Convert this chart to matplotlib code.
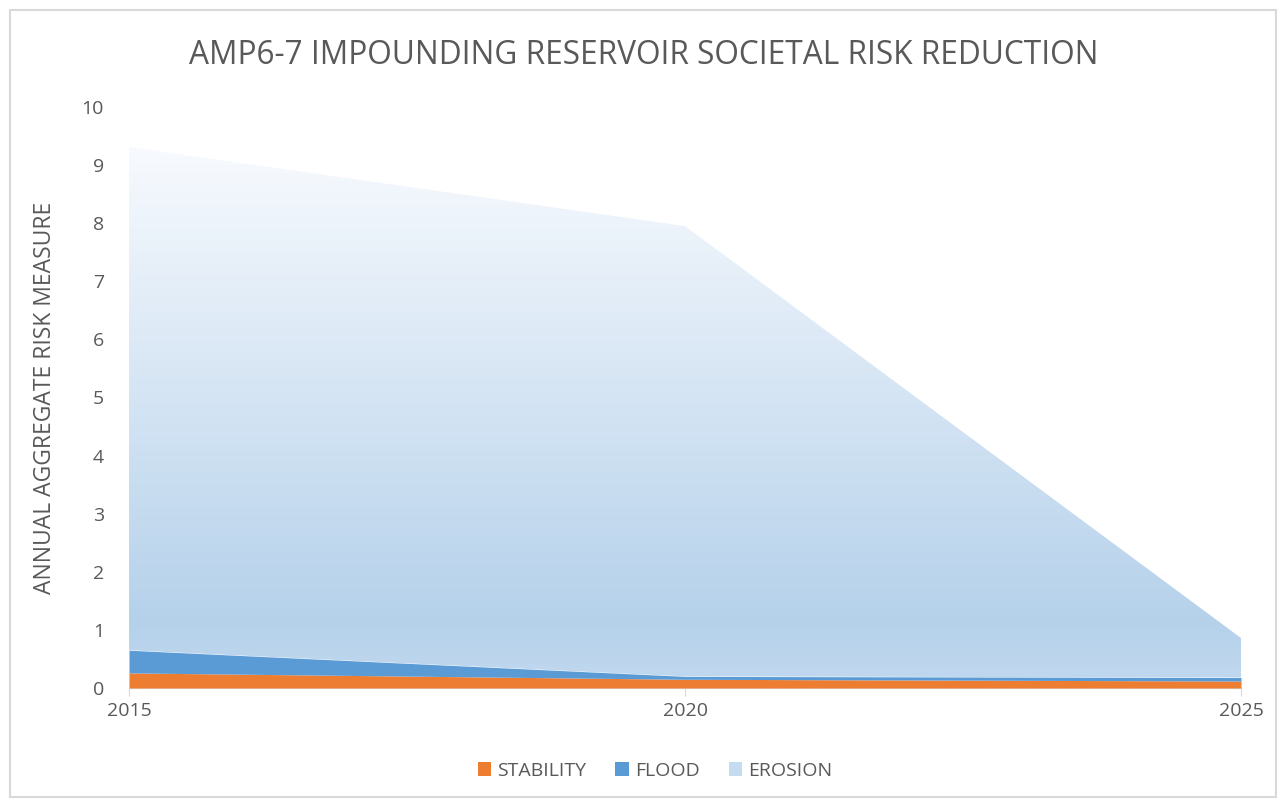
import matplotlib
matplotlib.use("Agg")
import matplotlib.pyplot as plt
import numpy as np
from matplotlib.colors import LinearSegmentedColormap
from matplotlib.patches import Polygon, Rectangle, Patch

years = [2015, 2020, 2025]
stability = [0.26, 0.15, 0.12]
flood = [0.39, 0.05, 0.06]
erosion = [8.66, 7.75, 0.68]
series_names = ["STABILITY", "FLOOD", "EROSION"]
yticks = list(range(0, 11))

plt.rcParams['font.family'] = ['Open Sans', 'DejaVu Sans']
grey = "#595959"

fig = plt.figure(figsize=(12.79, 8.01), dpi=100)
fig.add_artist(Rectangle((10/1279, 4/801), 1266/1279, 787/801, transform=fig.transFigure,
                         fill=False, edgecolor="#d9d9d9", linewidth=1.5))
ax = fig.add_axes([129/1279, 1-688/801, (1241-129)/1279, (688-107)/801])

s = np.array(stability); f = np.array(flood); e = np.array(erosion)
c1 = s; c2 = s + f; c3 = c2 + e
ax.fill_between(years, 0, c1, color="#ed7d31", linewidth=0, zorder=3)
ax.fill_between(years, c1, c2, color="#5b9bd5", linewidth=0, zorder=3)

# gradient for erosion
cmap = LinearSegmentedColormap.from_list("ero", [
    (0.0, (0.76, 0.85, 0.94)),
    (0.12, (0.71, 0.82, 0.92)),
    (1.0, (0.97, 0.98, 0.995)),
])
ymax = c3.max()
grad = np.linspace(0, 1, 256).reshape(-1, 1)
im = ax.imshow(grad, aspect="auto", cmap=cmap, origin="lower",
               extent=[years[0], years[-1], 0, ymax], zorder=2)
verts = list(zip(years, c3)) + list(zip(years[::-1], c2[::-1]))
poly = Polygon(verts, closed=True, facecolor="none", edgecolor="none", transform=ax.transData)
ax.add_patch(poly)
im.set_clip_path(poly)

ax.set_xlim(years[0], years[-1])
ax.set_ylim(0, 10)
ax.set_yticks(yticks)
ax.set_xticks(years)
ax.tick_params(axis="y", length=0, labelsize=14, labelcolor=grey, pad=18)
ax.tick_params(axis="x", length=6, color="#d9d9d9", labelsize=14, labelcolor=grey, pad=4)
for sp in ["top", "right", "left"]:
    ax.spines[sp].set_visible(False)
ax.spines["bottom"].set_color("#d9d9d9")
ax.set_ylabel("ANNUAL AGGREGATE RISK MEASURE", fontsize=16.5, color=grey, labelpad=18)

fig.text(0.503, 1-55/801, "AMP6-7 IMPOUNDING RESERVOIR SOCIETAL RISK REDUCTION",
         ha="center", va="center", fontsize=22.8, color=grey)

handles = [Patch(facecolor="#ed7d31"), Patch(facecolor="#5b9bd5"), Patch(facecolor="#c5dbef")]
fig.legend(handles, series_names, loc="center", bbox_to_anchor=(0.512, 1-771/801), ncol=3,
           frameon=False, fontsize=14, labelcolor=grey, handlelength=0.7, handleheight=0.7,
           handletextpad=0.3, columnspacing=1.5)

fig.savefig("out.png", dpi=100)
